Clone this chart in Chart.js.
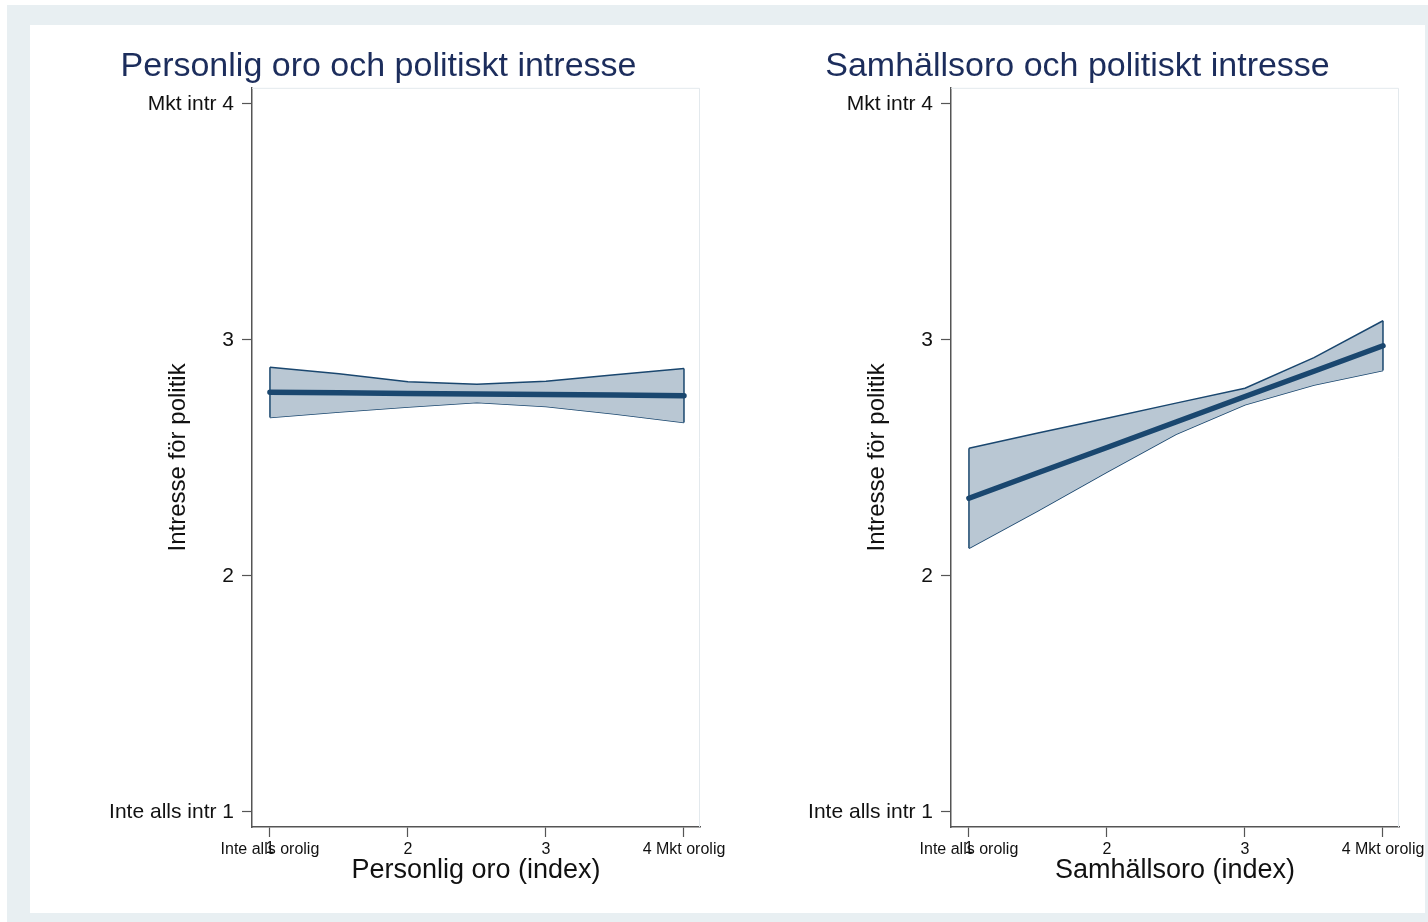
<!DOCTYPE html>
<html>
<head>
<meta charset="utf-8">
<script src="https://cdn.jsdelivr.net/npm/chart.js@4.4.1/dist/chart.umd.min.js"></script>
<style>
  body { margin: 0; background: #fff; width: 1428px; height: 922px; overflow: hidden; position: relative; }
  #outer { position: absolute; left: 7px; top: 5px; width: 1421px; height: 917px; background: #e8eff2; }
  #inner { position: absolute; left: 30px; top: 25px; width: 1395px; height: 888px; background: #fff; }
  .panel { position: absolute; top: 25px; width: 697px; height: 888px; }
</style>
</head>
<body>
<div id="outer"></div>
<div id="inner"></div>
<div class="panel" style="left:30px"><canvas id="persChart"></canvas></div>
<div class="panel" style="left:729px"><canvas id="samChart"></canvas></div>
<script>
// x points where the fit and its confidence band are evaluated
const xVals = [1, 1.5, 2, 2.5, 3, 3.5, 4];

// Personlig oro
const persFit = [2.778, 2.776, 2.773, 2.771, 2.768, 2.766, 2.763];
const persUpper = [2.884, 2.856, 2.823, 2.812, 2.825, 2.852, 2.879];
const persLower = [2.671, 2.694, 2.716, 2.735, 2.718, 2.686, 2.650];

// Samhällsoro
const samFit = [2.329, 2.437, 2.544, 2.652, 2.760, 2.867, 2.975];
const samUpper = [2.541, 2.605, 2.668, 2.732, 2.795, 2.925, 3.081];
const samLower = [2.117, 2.276, 2.440, 2.600, 2.725, 2.809, 2.870];

const xTicks = [1, 2, 3, 4];
const xTickLabels = ["Inte alls orolig", "2", "3", "4 Mkt orolig"];
const xOverlayLabel = "1";
const yTicks = [1, 2, 3, 4];
const yTickLabels = ["Inte alls intr 1", "2", "3", "Mkt intr 4"];

const NAVY = "#1a476f";
const BAND = "#b9c7d3";
const FONT = "'Liberation Sans', Arial, sans-serif";

const pts = (ys) => xVals.map((x, i) => ({ x: x, y: ys[i] }));

// faint frame on top/right of plot area + overlapping "1" under first x tick
const framePlugin = {
  id: "frame",
  beforeDatasetsDraw(chart) {
    const { ctx, chartArea: a } = chart;
    ctx.save();
    ctx.strokeStyle = "#e3e9ed";
    ctx.lineWidth = 1;
    ctx.beginPath();
    ctx.moveTo(a.left, a.top + 0.5);
    ctx.lineTo(a.right - 0.5, a.top + 0.5);
    ctx.lineTo(a.right - 0.5, a.bottom);
    ctx.stroke();
    ctx.restore();
  },
  afterDraw(chart) {
    const { ctx, scales } = chart;
    const x = scales.x;
    ctx.save();
    ctx.font = "16px " + FONT;
    ctx.fillStyle = "#111";
    ctx.textAlign = "center";
    ctx.textBaseline = "middle";
    ctx.fillText(xOverlayLabel, x.getPixelForValue(xTicks[0]), x.top + 22);
    ctx.restore();
  }
};

function makePanel(id, title, xTitle, fit, upper, lower) {
  const n = xVals.length - 1;
  new Chart(document.getElementById(id), {
    type: "line",
    data: {
      datasets: [
        { data: pts(fit), borderColor: NAVY, borderWidth: 5.5, borderCapStyle: "round", fill: false, order: 0 },
        { data: pts(upper), borderColor: NAVY, borderWidth: 1.5, backgroundColor: BAND, fill: "+1", order: 2 },
        { data: pts(lower), borderColor: NAVY, borderWidth: 1.5, fill: false, order: 2 },
        { data: [{ x: xVals[0], y: lower[0] }, { x: xVals[0], y: upper[0] }], borderColor: NAVY, borderWidth: 1.5, fill: false, order: 1 },
        { data: [{ x: xVals[n], y: lower[n] }, { x: xVals[n], y: upper[n] }], borderColor: NAVY, borderWidth: 1.5, fill: false, order: 1 }
      ]
    },
    options: {
      responsive: true,
      maintainAspectRatio: false,
      animation: false,
      layout: { padding: { left: 27, right: 27, top: 0, bottom: 0 } },
      elements: { point: { radius: 0, hoverRadius: 0 }, line: { tension: 0 } },
      plugins: {
        legend: { display: false },
        tooltip: { enabled: false },
        title: {
          display: true,
          text: title,
          color: "#1c2d5c",
          font: { family: FONT, size: 34, weight: "normal" },
          padding: { top: 21, bottom: 1 }
        }
      },
      scales: {
        x: {
          type: "linear",
          min: 0.87,
          max: 4.116,
          afterBuildTicks: (s) => { s.ticks = xTicks.map(v => ({ value: v })); },
          afterFit: (s) => { s.height = 86; s.paddingLeft = 0; s.paddingRight = 0; },
          ticks: {
            color: "#111",
            padding: 3,
            font: { family: FONT, size: 16 },
            callback: (v) => xTickLabels[xTicks.indexOf(v)]
          },
          grid: { drawOnChartArea: false, tickLength: 10, color: "#555", tickWidth: 1.2 },
          border: { color: "#555", width: 1.5 },
          title: {
            display: true,
            text: xTitle,
            color: "#111",
            font: { family: FONT, size: 27 },
            padding: { top: 0, bottom: 26 }
          }
        },
        y: {
          type: "linear",
          min: 0.936,
          max: 4.068,
          afterBuildTicks: (s) => { s.ticks = yTicks.map(v => ({ value: v })); },
          afterFit: (s) => { s.width = 195; s.paddingTop = 0; s.paddingBottom = 0; },
          ticks: {
            color: "#111",
            padding: 8,
            font: { family: FONT, size: 21 },
            callback: (v) => yTickLabels[yTicks.indexOf(v)]
          },
          grid: { drawOnChartArea: false, tickLength: 10, color: "#555", tickWidth: 1.2 },
          border: { color: "#555", width: 1.5 },
          title: {
            display: true,
            text: "Intresse för politik",
            color: "#111",
            font: { family: FONT, size: 24 },
            padding: { top: 107, bottom: 0 }
          }
        }
      }
    },
    plugins: [framePlugin]
  });
}

makePanel("persChart", "Personlig oro och politiskt intresse", "Personlig oro (index)", persFit, persUpper, persLower);
makePanel("samChart", "Samhällsoro och politiskt intresse", "Samhällsoro (index)", samFit, samUpper, samLower);
</script>
</body>
</html>
